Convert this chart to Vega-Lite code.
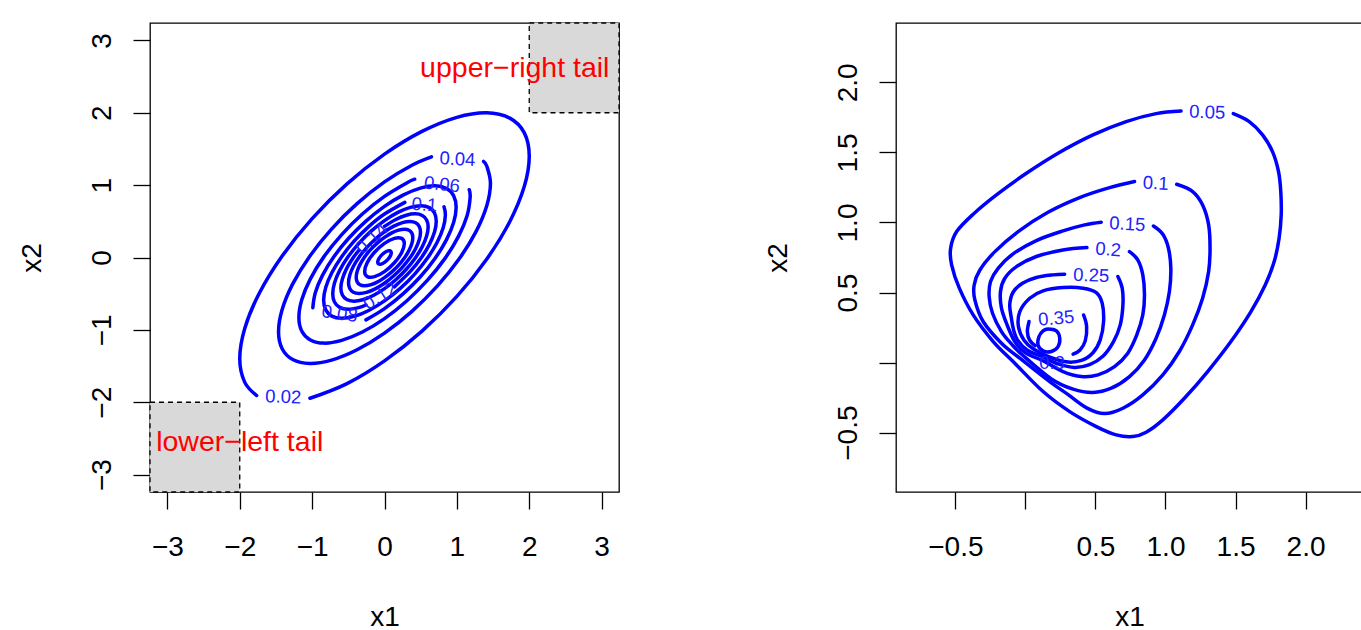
{
"$schema": "https://vega.github.io/schema/vega-lite/v6.json",
"background": "white",
"padding": {"left": 17, "top": 21, "right": 0, "bottom": 0},
"spacing": 142,
"config": {
 "font": "Liberation Sans",
 "view": {"stroke": "black", "strokeWidth": 1.3},
 "axis": {"domain": false, "grid": false, "tickColor": "black", "tickWidth": 1.3, "tickSize": 17, "labelFont": "Liberation Sans", "labelFontSize": 28, "labelColor": "black", "labelOverlap": false, "labelFlush": false, "titleFont": "Liberation Sans", "titleFontSize": 28, "titleFontWeight": "normal", "titleColor": "black"},
 "axisX": {"labelBaseline": "alphabetic", "labelPadding": 46, "titleBaseline": "alphabetic", "titleY": 133},
 "axisY": {"labelAngle": -90, "labelAlign": "center", "labelBaseline": "alphabetic", "labelPadding": 23, "titleAngle": -90, "titleAlign": "center", "titleBaseline": "alphabetic", "titleX": -110}
},
"datasets": {
 "boxes": [{"x": -3.24, "xe": -2, "y": -3.24, "ye": -2}, {"x": 2, "xe": 3.24, "y": 2, "ye": 3.24}],
 "tails": [{"x": -2.0, "y": -2.55, "t": "lower−left tail"}, {"x": 1.8, "y": 2.62, "t": "upper−right tail"}],
 "ll": [
  {"x": -1.398, "y": -1.926, "t": "0.02", "a": 2},
  {"x": 1.008, "y": 1.36, "t": "0.04", "a": 3},
  {"x": 0.794, "y": 1.01, "t": "0.06", "a": 6},
  {"x": -0.619, "y": -0.775, "t": "0.08", "a": 8},
  {"x": 0.552, "y": 0.731, "t": "0.1", "a": 4},
  {"x": -0.06, "y": -0.531, "t": "0.12", "a": -32},
  {"x": -0.177, "y": 0.265, "t": "0.14", "a": -43}
 ],
 "lc": [
  {"g":"a02","i":0,"x":-1.030,"y":-1.945},{"g":"a02","i":1,"x":-0.518,"y":-1.742},{"g":"a02","i":2,"x":0,"y":-1.428},{"g":"a02","i":3,"x":0.518,"y":-1.017},{"g":"a02","i":4,"x":1.0,"y":-0.537},{"g":"a02","i":5,"x":1.414,"y":-0.020},{"g":"a02","i":6,"x":1.732,"y":0.498},{"g":"a02","i":7,"x":1.932,"y":0.983},{"g":"a02","i":8,"x":2.0,"y":1.4},{"g":"a02","i":9,"x":1.932,"y":1.722},{"g":"a02","i":10,"x":1.732,"y":1.926},{"g":"a02","i":11,"x":1.414,"y":2.0},{"g":"a02","i":12,"x":1.0,"y":1.937},{"g":"a02","i":13,"x":0.518,"y":1.742},{"g":"a02","i":14,"x":0,"y":1.428},{"g":"a02","i":15,"x":-0.518,"y":1.017},{"g":"a02","i":16,"x":-1.0,"y":0.537},{"g":"a02","i":17,"x":-1.414,"y":0.020},{"g":"a02","i":18,"x":-1.732,"y":-0.498},{"g":"a02","i":19,"x":-1.932,"y":-0.983},{"g":"a02","i":20,"x":-2.0,"y":-1.4},{"g":"a02","i":21,"x":-1.932,"y":-1.722},{"g":"a02","i":22,"x":-1.766,"y":-1.907},
  {"g":"a04","i":0,"x":0.649,"y":1.391},{"g":"a04","i":1,"x":0.379,"y":1.275},{"g":"a04","i":2,"x":0,"y":1.045},{"g":"a04","i":3,"x":-0.379,"y":0.744},{"g":"a04","i":4,"x":-0.732,"y":0.393},{"g":"a04","i":5,"x":-1.035,"y":0.015},{"g":"a04","i":6,"x":-1.268,"y":-0.365},{"g":"a04","i":7,"x":-1.414,"y":-0.719},{"g":"a04","i":8,"x":-1.464,"y":-1.025},{"g":"a04","i":9,"x":-1.414,"y":-1.260},{"g":"a04","i":10,"x":-1.268,"y":-1.410},{"g":"a04","i":11,"x":-1.035,"y":-1.464},{"g":"a04","i":12,"x":-0.732,"y":-1.418},{"g":"a04","i":13,"x":-0.379,"y":-1.275},{"g":"a04","i":14,"x":0,"y":-1.045},{"g":"a04","i":15,"x":0.379,"y":-0.744},{"g":"a04","i":16,"x":0.732,"y":-0.393},{"g":"a04","i":17,"x":1.035,"y":-0.015},{"g":"a04","i":18,"x":1.268,"y":0.365},{"g":"a04","i":19,"x":1.414,"y":0.719},{"g":"a04","i":20,"x":1.464,"y":1.025},{"g":"a04","i":21,"x":1.414,"y":1.260},{"g":"a04","i":22,"x":1.369,"y":1.328},
  {"g":"a06","i":0,"x":0.417,"y":1.082},{"g":"a06","i":1,"x":0.306,"y":1.030},{"g":"a06","i":2,"x":0,"y":0.844},{"g":"a06","i":3,"x":-0.306,"y":0.601},{"g":"a06","i":4,"x":-0.591,"y":0.317},{"g":"a06","i":5,"x":-0.836,"y":0.012},{"g":"a06","i":6,"x":-1.024,"y":-0.295},{"g":"a06","i":7,"x":-1.142,"y":-0.581},{"g":"a06","i":8,"x":-1.183,"y":-0.828},{"g":"a06","i":9,"x":-1.142,"y":-1.018},{"g":"a06","i":10,"x":-1.024,"y":-1.139},{"g":"a06","i":11,"x":-0.836,"y":-1.183},{"g":"a06","i":12,"x":-0.591,"y":-1.145},{"g":"a06","i":13,"x":-0.306,"y":-1.030},{"g":"a06","i":14,"x":0,"y":-0.844},{"g":"a06","i":15,"x":0.306,"y":-0.601},{"g":"a06","i":16,"x":0.591,"y":-0.317},{"g":"a06","i":17,"x":0.836,"y":-0.012},{"g":"a06","i":18,"x":1.024,"y":0.295},{"g":"a06","i":19,"x":1.142,"y":0.581},{"g":"a06","i":20,"x":1.183,"y":0.828},{"g":"a06","i":21,"x":1.171,"y":0.937},
  {"g":"a08","i":0,"x":-0.256,"y":-0.862},{"g":"a08","i":1,"x":0,"y":-0.707},{"g":"a08","i":2,"x":0.256,"y":-0.503},{"g":"a08","i":3,"x":0.495,"y":-0.266},{"g":"a08","i":4,"x":0.700,"y":-0.010},{"g":"a08","i":5,"x":0.857,"y":0.247},{"g":"a08","i":6,"x":0.956,"y":0.486},{"g":"a08","i":7,"x":0.990,"y":0.693},{"g":"a08","i":8,"x":0.956,"y":0.852},{"g":"a08","i":9,"x":0.857,"y":0.954},{"g":"a08","i":10,"x":0.700,"y":0.990},{"g":"a08","i":11,"x":0.495,"y":0.959},{"g":"a08","i":12,"x":0.256,"y":0.862},{"g":"a08","i":13,"x":0,"y":0.707},{"g":"a08","i":14,"x":-0.256,"y":0.503},{"g":"a08","i":15,"x":-0.495,"y":0.266},{"g":"a08","i":16,"x":-0.700,"y":0.010},{"g":"a08","i":17,"x":-0.857,"y":-0.247},{"g":"a08","i":18,"x":-0.956,"y":-0.486},{"g":"a08","i":19,"x":-0.990,"y":-0.693},
  {"g":"a10","i":0,"x":0.281,"y":0.762},{"g":"a10","i":1,"x":0,"y":0.600},{"g":"a10","i":2,"x":-0.218,"y":0.427},{"g":"a10","i":3,"x":-0.420,"y":0.226},{"g":"a10","i":4,"x":-0.594,"y":0.008},{"g":"a10","i":5,"x":-0.728,"y":-0.210},{"g":"a10","i":6,"x":-0.812,"y":-0.413},{"g":"a10","i":7,"x":-0.841,"y":-0.588},{"g":"a10","i":8,"x":-0.812,"y":-0.724},{"g":"a10","i":9,"x":-0.728,"y":-0.810},{"g":"a10","i":10,"x":-0.594,"y":-0.840},{"g":"a10","i":11,"x":-0.420,"y":-0.814},{"g":"a10","i":12,"x":-0.218,"y":-0.732},{"g":"a10","i":13,"x":0,"y":-0.600},{"g":"a10","i":14,"x":0.218,"y":-0.427},{"g":"a10","i":15,"x":0.420,"y":-0.226},{"g":"a10","i":16,"x":0.594,"y":-0.008},{"g":"a10","i":17,"x":0.728,"y":0.210},{"g":"a10","i":18,"x":0.812,"y":0.413},{"g":"a10","i":19,"x":0.841,"y":0.588},{"g":"a10","i":20,"x":0.822,"y":0.700},
  {"g":"a12","i":0,"x":0.136,"y":-0.406},{"g":"a12","i":1,"x":0.357,"y":-0.192},{"g":"a12","i":2,"x":0.506,"y":-0.007},{"g":"a12","i":3,"x":0.619,"y":0.178},{"g":"a12","i":4,"x":0.691,"y":0.351},{"g":"a12","i":5,"x":0.715,"y":0.500},{"g":"a12","i":6,"x":0.691,"y":0.615},{"g":"a12","i":7,"x":0.619,"y":0.689},{"g":"a12","i":8,"x":0.506,"y":0.715},{"g":"a12","i":9,"x":0.357,"y":0.692},{"g":"a12","i":10,"x":0.185,"y":0.623},{"g":"a12","i":11,"x":0,"y":0.510},{"g":"a12","i":12,"x":-0.185,"y":0.364},{"g":"a12","i":13,"x":-0.357,"y":0.192},{"g":"a12","i":14,"x":-0.506,"y":0.007},{"g":"a12","i":15,"x":-0.619,"y":-0.178},{"g":"a12","i":16,"x":-0.691,"y":-0.351},{"g":"a12","i":17,"x":-0.715,"y":-0.500},{"g":"a12","i":18,"x":-0.691,"y":-0.615},{"g":"a12","i":19,"x":-0.619,"y":-0.689},{"g":"a12","i":20,"x":-0.506,"y":-0.715},{"g":"a12","i":21,"x":-0.357,"y":-0.692},{"g":"a12","i":22,"x":-0.256,"y":-0.656},
  {"g":"a14","i":0,"x":-0.354,"y":0.100},{"g":"a14","i":1,"x":-0.426,"y":0.006},{"g":"a14","i":2,"x":-0.522,"y":-0.150},{"g":"a14","i":3,"x":-0.582,"y":-0.296},{"g":"a14","i":4,"x":-0.603,"y":-0.422},{"g":"a14","i":5,"x":-0.582,"y":-0.519},{"g":"a14","i":6,"x":-0.522,"y":-0.581},{"g":"a14","i":7,"x":-0.426,"y":-0.603},{"g":"a14","i":8,"x":-0.301,"y":-0.584},{"g":"a14","i":9,"x":-0.156,"y":-0.525},{"g":"a14","i":10,"x":0,"y":-0.430},{"g":"a14","i":11,"x":0.156,"y":-0.307},{"g":"a14","i":12,"x":0.301,"y":-0.162},{"g":"a14","i":13,"x":0.426,"y":-0.006},{"g":"a14","i":14,"x":0.522,"y":0.150},{"g":"a14","i":15,"x":0.582,"y":0.296},{"g":"a14","i":16,"x":0.603,"y":0.422},{"g":"a14","i":17,"x":0.582,"y":0.519},{"g":"a14","i":18,"x":0.522,"y":0.581},{"g":"a14","i":19,"x":0.426,"y":0.603},{"g":"a14","i":20,"x":0.301,"y":0.584},{"g":"a14","i":21,"x":0.156,"y":0.525},{"g":"a14","i":22,"x":0,"y":0.430}
 ],
 "lcc": [
  {"g":"a16","i":0,"x":0.497,"y":0.348},{"g":"a16","i":1,"x":0.480,"y":0.428},{"g":"a16","i":2,"x":0.431,"y":0.479},{"g":"a16","i":3,"x":0.352,"y":0.497},{"g":"a16","i":4,"x":0.249,"y":0.482},{"g":"a16","i":5,"x":0.129,"y":0.433},{"g":"a16","i":6,"x":0,"y":0.355},{"g":"a16","i":7,"x":-0.129,"y":0.253},{"g":"a16","i":8,"x":-0.249,"y":0.133},{"g":"a16","i":9,"x":-0.352,"y":0.005},{"g":"a16","i":10,"x":-0.431,"y":-0.124},{"g":"a16","i":11,"x":-0.480,"y":-0.244},{"g":"a16","i":12,"x":-0.497,"y":-0.348},{"g":"a16","i":13,"x":-0.480,"y":-0.428},{"g":"a16","i":14,"x":-0.431,"y":-0.479},{"g":"a16","i":15,"x":-0.352,"y":-0.497},{"g":"a16","i":16,"x":-0.249,"y":-0.482},{"g":"a16","i":17,"x":-0.129,"y":-0.433},{"g":"a16","i":18,"x":0,"y":-0.355},{"g":"a16","i":19,"x":0.129,"y":-0.253},{"g":"a16","i":20,"x":0.249,"y":-0.133},{"g":"a16","i":21,"x":0.352,"y":-0.005},{"g":"a16","i":22,"x":0.431,"y":0.124},{"g":"a16","i":23,"x":0.480,"y":0.244},
  {"g":"a18","i":0,"x":0.391,"y":0.274},{"g":"a18","i":1,"x":0.378,"y":0.337},{"g":"a18","i":2,"x":0.339,"y":0.377},{"g":"a18","i":3,"x":0.277,"y":0.391},{"g":"a18","i":4,"x":0.196,"y":0.379},{"g":"a18","i":5,"x":0.101,"y":0.341},{"g":"a18","i":6,"x":0,"y":0.279},{"g":"a18","i":7,"x":-0.101,"y":0.199},{"g":"a18","i":8,"x":-0.196,"y":0.105},{"g":"a18","i":9,"x":-0.277,"y":0.004},{"g":"a18","i":10,"x":-0.339,"y":-0.098},{"g":"a18","i":11,"x":-0.378,"y":-0.192},{"g":"a18","i":12,"x":-0.391,"y":-0.274},{"g":"a18","i":13,"x":-0.378,"y":-0.337},{"g":"a18","i":14,"x":-0.339,"y":-0.377},{"g":"a18","i":15,"x":-0.277,"y":-0.391},{"g":"a18","i":16,"x":-0.196,"y":-0.379},{"g":"a18","i":17,"x":-0.101,"y":-0.341},{"g":"a18","i":18,"x":0,"y":-0.279},{"g":"a18","i":19,"x":0.101,"y":-0.199},{"g":"a18","i":20,"x":0.196,"y":-0.105},{"g":"a18","i":21,"x":0.277,"y":-0.004},{"g":"a18","i":22,"x":0.339,"y":0.098},{"g":"a18","i":23,"x":0.378,"y":0.192},
  {"g":"a20","i":0,"x":0.274,"y":0.192},{"g":"a20","i":1,"x":0.237,"y":0.264},{"g":"a20","i":2,"x":0.137,"y":0.265},{"g":"a20","i":3,"x":0,"y":0.195},{"g":"a20","i":4,"x":-0.137,"y":0.073},{"g":"a20","i":5,"x":-0.237,"y":-0.068},{"g":"a20","i":6,"x":-0.274,"y":-0.192},{"g":"a20","i":7,"x":-0.237,"y":-0.264},{"g":"a20","i":8,"x":-0.137,"y":-0.265},{"g":"a20","i":9,"x":0,"y":-0.195},{"g":"a20","i":10,"x":0.137,"y":-0.073},{"g":"a20","i":11,"x":0.237,"y":0.068},
  {"g":"a22","i":0,"x":0.094,"y":0.066},{"g":"a22","i":1,"x":0.081,"y":0.090},{"g":"a22","i":2,"x":0.047,"y":0.091},{"g":"a22","i":3,"x":0,"y":0.067},{"g":"a22","i":4,"x":-0.047,"y":0.025},{"g":"a22","i":5,"x":-0.081,"y":-0.023},{"g":"a22","i":6,"x":-0.094,"y":-0.066},{"g":"a22","i":7,"x":-0.081,"y":-0.090},{"g":"a22","i":8,"x":-0.047,"y":-0.091},{"g":"a22","i":9,"x":0,"y":-0.067},{"g":"a22","i":10,"x":0.047,"y":-0.025},{"g":"a22","i":11,"x":0.081,"y":0.023}
 ],
 "rl": [
  {"x": 1.2975, "y": 1.787, "t": "0.05", "a": 2},
  {"x": 0.93, "y": 1.28, "t": "0.1", "a": 3},
  {"x": 0.727, "y": 0.989, "t": "0.15", "a": 3},
  {"x": 0.591, "y": 0.807, "t": "0.2", "a": 4},
  {"x": 0.47, "y": 0.622, "t": "0.25", "a": 2},
  {"x": 0.22, "y": 0.316, "t": "0.35", "a": -5},
  {"x": 0.19, "y": 0.0, "t": "0.3", "a": 0}
 ],
 "rc": [
  {"g":"b05","i":0,"x":1.484,"y":1.777},{"g":"b05","i":1,"x":1.598,"y":1.720},{"g":"b05","i":2,"x":1.693,"y":1.625},{"g":"b05","i":3,"x":1.764,"y":1.506},{"g":"b05","i":4,"x":1.807,"y":1.363},{"g":"b05","i":5,"x":1.823,"y":1.221},{"g":"b05","i":6,"x":1.826,"y":1.054},{"g":"b05","i":7,"x":1.811,"y":0.887},{"g":"b05","i":8,"x":1.776,"y":0.721},{"g":"b05","i":9,"x":1.712,"y":0.554},{"g":"b05","i":10,"x":1.610,"y":0.364},{"g":"b05","i":11,"x":1.467,"y":0.150},{"g":"b05","i":12,"x":1.301,"y":-0.064},{"g":"b05","i":13,"x":1.135,"y":-0.255},{"g":"b05","i":14,"x":0.981,"y":-0.409},{"g":"b05","i":15,"x":0.862,"y":-0.497},{"g":"b05","i":16,"x":0.767,"y":-0.528},{"g":"b05","i":17,"x":0.648,"y":-0.516},{"g":"b05","i":18,"x":0.506,"y":-0.457},{"g":"b05","i":19,"x":0.316,"y":-0.350},{"g":"b05","i":20,"x":0.126,"y":-0.207},{"g":"b05","i":21,"x":-0.076,"y":-0.005},{"g":"b05","i":22,"x":-0.230,"y":0.150},{"g":"b05","i":23,"x":-0.373,"y":0.340},{"g":"b05","i":24,"x":-0.472,"y":0.531},{"g":"b05","i":25,"x":-0.527,"y":0.697},{"g":"b05","i":26,"x":-0.534,"y":0.816},{"g":"b05","i":27,"x":-0.491,"y":0.935},{"g":"b05","i":28,"x":-0.373,"y":1.059},{"g":"b05","i":29,"x":-0.207,"y":1.197},{"g":"b05","i":30,"x":0.007,"y":1.351},{"g":"b05","i":31,"x":0.245,"y":1.501},{"g":"b05","i":32,"x":0.482,"y":1.625},{"g":"b05","i":33,"x":0.719,"y":1.720},{"g":"b05","i":34,"x":0.933,"y":1.777},{"g":"b05","i":35,"x":1.111,"y":1.796},
  {"g":"b10","i":0,"x":1.080,"y":1.273},{"g":"b10","i":1,"x":1.194,"y":1.221},{"g":"b10","i":2,"x":1.265,"y":1.125},{"g":"b10","i":3,"x":1.308,"y":0.983},{"g":"b10","i":4,"x":1.318,"y":0.816},{"g":"b10","i":5,"x":1.308,"y":0.650},{"g":"b10","i":6,"x":1.265,"y":0.459},{"g":"b10","i":7,"x":1.194,"y":0.269},{"g":"b10","i":8,"x":1.099,"y":0.079},{"g":"b10","i":9,"x":0.981,"y":-0.088},{"g":"b10","i":10,"x":0.838,"y":-0.231},{"g":"b10","i":11,"x":0.696,"y":-0.326},{"g":"b10","i":12,"x":0.565,"y":-0.364},{"g":"b10","i":13,"x":0.440,"y":-0.325},{"g":"b10","i":14,"x":0.300,"y":-0.225},{"g":"b10","i":15,"x":0.173,"y":-0.136},{"g":"b10","i":16,"x":-0.040,"y":0.031},{"g":"b10","i":17,"x":-0.171,"y":0.138},{"g":"b10","i":18,"x":-0.302,"y":0.293},{"g":"b10","i":19,"x":-0.361,"y":0.447},{"g":"b10","i":20,"x":-0.366,"y":0.554},{"g":"b10","i":21,"x":-0.325,"y":0.661},{"g":"b10","i":22,"x":-0.218,"y":0.792},{"g":"b10","i":23,"x":-0.052,"y":0.935},{"g":"b10","i":24,"x":0.161,"y":1.073},{"g":"b10","i":25,"x":0.387,"y":1.178},{"g":"b10","i":26,"x":0.601,"y":1.249},{"g":"b10","i":27,"x":0.779,"y":1.292},
  {"g":"b15","i":0,"x":0.914,"y":0.975},{"g":"b15","i":1,"x":0.981,"y":0.916},{"g":"b15","i":2,"x":1.021,"y":0.816},{"g":"b15","i":3,"x":1.038,"y":0.673},{"g":"b15","i":4,"x":1.028,"y":0.507},{"g":"b15","i":5,"x":0.992,"y":0.340},{"g":"b15","i":6,"x":0.933,"y":0.174},{"g":"b15","i":7,"x":0.850,"y":0.019},{"g":"b15","i":8,"x":0.743,"y":-0.100},{"g":"b15","i":9,"x":0.613,"y":-0.183},{"g":"b15","i":10,"x":0.482,"y":-0.214},{"g":"b15","i":11,"x":0.340,"y":-0.190},{"g":"b15","i":12,"x":0.185,"y":-0.117},{"g":"b15","i":13,"x":-0.019,"y":0.052},{"g":"b15","i":14,"x":-0.100,"y":0.133},{"g":"b15","i":15,"x":-0.171,"y":0.221},{"g":"b15","i":16,"x":-0.235,"y":0.352},{"g":"b15","i":17,"x":-0.259,"y":0.471},{"g":"b15","i":18,"x":-0.249,"y":0.578},{"g":"b15","i":19,"x":-0.195,"y":0.673},{"g":"b15","i":20,"x":-0.088,"y":0.776},{"g":"b15","i":21,"x":0.078,"y":0.871},{"g":"b15","i":22,"x":0.268,"y":0.940},{"g":"b15","i":23,"x":0.423,"y":0.983},{"g":"b15","i":24,"x":0.541,"y":1.002},
  {"g":"b20","i":0,"x":0.743,"y":0.792},{"g":"b20","i":1,"x":0.802,"y":0.733},{"g":"b20","i":2,"x":0.838,"y":0.626},{"g":"b20","i":3,"x":0.850,"y":0.483},{"g":"b20","i":4,"x":0.838,"y":0.340},{"g":"b20","i":5,"x":0.795,"y":0.197},{"g":"b20","i":6,"x":0.731,"y":0.067},{"g":"b20","i":7,"x":0.636,"y":-0.029},{"g":"b20","i":8,"x":0.518,"y":-0.088},{"g":"b20","i":9,"x":0.399,"y":-0.100},{"g":"b20","i":10,"x":0.268,"y":-0.064},{"g":"b20","i":11,"x":0.138,"y":0.007},{"g":"b20","i":12,"x":-0.002,"y":0.071},{"g":"b20","i":13,"x":-0.076,"y":0.150},{"g":"b20","i":14,"x":-0.131,"y":0.269},{"g":"b20","i":15,"x":-0.171,"y":0.388},{"g":"b20","i":16,"x":-0.178,"y":0.507},{"g":"b20","i":17,"x":-0.147,"y":0.602},{"g":"b20","i":18,"x":-0.064,"y":0.685},{"g":"b20","i":19,"x":0.078,"y":0.757},{"g":"b20","i":20,"x":0.268,"y":0.804},{"g":"b20","i":21,"x":0.439,"y":0.821},
  {"g":"b25","i":0,"x":0.660,"y":0.614},{"g":"b25","i":1,"x":0.691,"y":0.531},{"g":"b25","i":2,"x":0.696,"y":0.412},{"g":"b25","i":3,"x":0.677,"y":0.269},{"g":"b25","i":4,"x":0.629,"y":0.150},{"g":"b25","i":5,"x":0.553,"y":0.045},{"g":"b25","i":6,"x":0.458,"y":-0.015},{"g":"b25","i":7,"x":0.351,"y":-0.035},{"g":"b25","i":8,"x":0.233,"y":-0.010},{"g":"b25","i":9,"x":0.114,"y":0.045},{"g":"b25","i":10,"x":0.014,"y":0.088},{"g":"b25","i":11,"x":-0.057,"y":0.162},{"g":"b25","i":12,"x":-0.085,"y":0.235},{"g":"b25","i":13,"x":-0.100,"y":0.316},{"g":"b25","i":14,"x":-0.112,"y":0.412},{"g":"b25","i":15,"x":-0.088,"y":0.502},{"g":"b25","i":16,"x":-0.021,"y":0.566},{"g":"b25","i":17,"x":0.078,"y":0.607},{"g":"b25","i":18,"x":0.197,"y":0.626},{"g":"b25","i":19,"x":0.280,"y":0.631},
  {"g":"b35r","i":0,"x":0.415,"y":0.340},{"g":"b35r","i":1,"x":0.437,"y":0.257},{"g":"b35r","i":2,"x":0.427,"y":0.155},{"g":"b35r","i":3,"x":0.390,"y":0.090},{"g":"b35r","i":4,"x":0.340,"y":0.060},
  {"g":"b35l","i":0,"x":0.026,"y":0.293},{"g":"b35l","i":1,"x":0.014,"y":0.221},{"g":"b35l","i":2,"x":0.030,"y":0.160},{"g":"b35l","i":3,"x":0.070,"y":0.120}
 ],
 "rcc": [
  {"g":"b30","i":0,"x":0.031,"y":0.459},{"g":"b30","i":1,"x":0.126,"y":0.512},{"g":"b30","i":2,"x":0.268,"y":0.535},{"g":"b30","i":3,"x":0.411,"y":0.531},{"g":"b30","i":4,"x":0.506,"y":0.500},{"g":"b30","i":5,"x":0.548,"y":0.424},{"g":"b30","i":6,"x":0.558,"y":0.293},{"g":"b30","i":7,"x":0.534,"y":0.162},{"g":"b30","i":8,"x":0.482,"y":0.070},{"g":"b30","i":9,"x":0.400,"y":0.015},{"g":"b30","i":10,"x":0.290,"y":0.005},{"g":"b30","i":11,"x":0.170,"y":0.040},{"g":"b30","i":12,"x":0.060,"y":0.095},{"g":"b30","i":13,"x":-0.010,"y":0.160},{"g":"b30","i":14,"x":-0.050,"y":0.257},{"g":"b30","i":15,"x":-0.040,"y":0.364},
  {"g":"b40","i":0,"x":0.161,"y":0.240},{"g":"b40","i":1,"x":0.221,"y":0.226},{"g":"b40","i":2,"x":0.245,"y":0.174},{"g":"b40","i":3,"x":0.233,"y":0.114},{"g":"b40","i":4,"x":0.185,"y":0.079},{"g":"b40","i":5,"x":0.126,"y":0.083},{"g":"b40","i":6,"x":0.090,"y":0.126},{"g":"b40","i":7,"x":0.097,"y":0.186},{"g":"b40","i":8,"x":0.126,"y":0.226}
 ]
},
"hconcat": [
 {
  "width": 469, "height": 469,
  "encoding": {
   "x": {"field": "x", "type": "quantitative", "scale": {"domain": [-3.24, 3.24], "nice": false, "zero": false}, "axis": {"title": "x1", "values": [-3, -2, -1, 0, 1, 2, 3], "format": "d"}},
   "y": {"field": "y", "type": "quantitative", "scale": {"domain": [-3.24, 3.24], "nice": false, "zero": false}, "axis": {"title": "x2", "values": [-3, -2, -1, 0, 1, 2, 3], "format": "d"}}
  },
  "layer": [
   {"data": {"name": "boxes"}, "mark": {"type": "rect", "fill": "#d9d9d9", "stroke": "black", "strokeWidth": 1.3, "strokeDash": [5, 4]}, "encoding": {"x2": {"field": "xe"}, "y2": {"field": "ye"}}},
   {"data": {"name": "lc"}, "mark": {"type": "line", "interpolate": "cardinal", "color": "blue", "strokeWidth": 3.5, "strokeCap": "round"}, "encoding": {"detail": {"field": "g", "type": "nominal"}, "order": {"field": "i", "type": "quantitative"}}},
   {"data": {"name": "lcc"}, "mark": {"type": "line", "interpolate": "cardinal-closed", "color": "blue", "strokeWidth": 3.5, "strokeCap": "round"}, "encoding": {"detail": {"field": "g", "type": "nominal"}, "order": {"field": "i", "type": "quantitative"}}},
   {"data": {"name": "ll"}, "mark": {"type": "text", "fontSize": 18.5, "color": "#2222ff", "align": "center", "baseline": "middle", "font": "Liberation Sans"}, "encoding": {"text": {"field": "t", "type": "nominal"}, "angle": {"field": "a", "type": "quantitative", "scale": null}}},
   {"data": {"name": "tails"}, "mark": {"type": "text", "fontSize": 28.5, "color": "red", "align": "center", "baseline": "middle", "font": "Liberation Sans"}, "encoding": {"text": {"field": "t", "type": "nominal"}}}
  ]
 },
 {
  "width": 467, "height": 469,
  "encoding": {
   "x": {"field": "x", "type": "quantitative", "scale": {"domain": [-0.924, 2.41], "nice": false, "zero": false}, "axis": {"title": "x1", "values": [-0.5, 0, 0.5, 1, 1.5, 2], "labelExpr": "datum.value == 0 ? '' : format(datum.value, '.1f')"}},
   "y": {"field": "y", "type": "quantitative", "scale": {"domain": [-0.924, 2.424], "nice": false, "zero": false}, "axis": {"title": "x2", "values": [-0.5, 0, 0.5, 1, 1.5, 2], "labelExpr": "datum.value == 0 ? '' : format(datum.value, '.1f')"}}
  },
  "layer": [
   {"data": {"name": "rc"}, "mark": {"type": "line", "interpolate": "cardinal", "color": "blue", "strokeWidth": 3.5, "strokeCap": "round"}, "encoding": {"detail": {"field": "g", "type": "nominal"}, "order": {"field": "i", "type": "quantitative"}}},
   {"data": {"name": "rcc"}, "mark": {"type": "line", "interpolate": "cardinal-closed", "color": "blue", "strokeWidth": 3.5, "strokeCap": "round"}, "encoding": {"detail": {"field": "g", "type": "nominal"}, "order": {"field": "i", "type": "quantitative"}}},
   {"data": {"name": "rl"}, "mark": {"type": "text", "fontSize": 18.5, "color": "#2222ff", "align": "center", "baseline": "middle", "font": "Liberation Sans"}, "encoding": {"text": {"field": "t", "type": "nominal"}, "angle": {"field": "a", "type": "quantitative", "scale": null}}}
  ]
 }
]
}
